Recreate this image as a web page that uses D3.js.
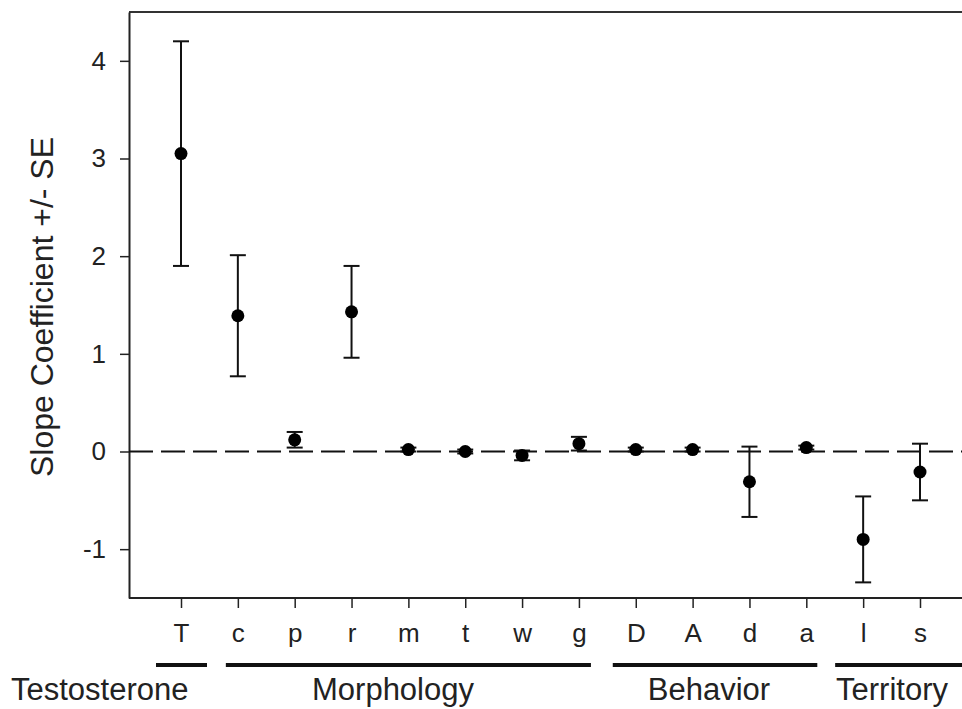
<!DOCTYPE html>
<html>
<head>
<meta charset="utf-8">
<script src="https://cdn.jsdelivr.net/npm/d3@7"></script>
<style>
  body { margin: 0; background: #fff; }
  svg { display: block; font-family: Arial, "Liberation Sans", sans-serif; }
</style>
</head>
<body>
<div id="chart"></div>
<script>
// categories and slope coefficients (+/- SE)
const categories = ["T", "c", "p", "r", "m", "t", "w", "g", "D", "A", "d", "a", "l", "s"];
const slope = [3.05, 1.39, 0.12, 1.43, 0.02, 0.00, -0.04, 0.08, 0.02, 0.02, -0.31, 0.04, -0.90, -0.21];
const se    = [1.15, 0.62, 0.08, 0.47, 0.02, 0.02,  0.05, 0.07, 0.02, 0.02,  0.36, 0.02,  0.44,  0.29];
const yTicks = [-1, 0, 1, 2, 3, 4];

// groups of categories under the x axis
const groupNames = ["Testosterone", "Morphology", "Behavior", "Territory"];
const groupFirst = ["T", "c", "D", "l"];
const groupLast  = ["T", "g", "a", "s"];

const W = 962, H = 709;
const plot = { left: 129, top: 12, bottom: 598, right: 962 };

const svg = d3.select("#chart")
    .append("svg")
    .attr("width", W)
    .attr("height", H);

const x = d3.scaleLinear()
    .domain([0, categories.length - 1])
    .range([181, 920]);

const y = d3.scaleLinear()
    .domain([-1.5, 4.5])
    .range([plot.bottom, plot.top]);

const xi = (c) => x(categories.indexOf(c));

// frame: top border
svg.append("line")
    .attr("x1", plot.left).attr("x2", plot.right)
    .attr("y1", plot.top).attr("y2", plot.top)
    .attr("stroke", "#333").attr("stroke-width", 2);

// y axis
const yAxis = svg.append("g")
    .attr("transform", `translate(${plot.left},0)`)
    .call(d3.axisLeft(y).tickValues(yTicks).tickSize(9).tickSizeOuter(0).tickPadding(14)
        .tickFormat((d) => String(d)));
yAxis.select(".domain").attr("stroke", "#222").attr("stroke-width", 2);
yAxis.selectAll(".tick line").attr("stroke", "#222").attr("stroke-width", 1.5);
yAxis.selectAll(".tick text")
    .attr("font-size", 26)
    .attr("fill", "#222")
    .attr("font-family", "Arial, 'Liberation Sans', sans-serif");

// x axis
const xAxis = svg.append("g")
    .attr("transform", `translate(0,${plot.bottom})`)
    .call(d3.axisBottom(x).tickValues(d3.range(categories.length)).tickSize(10).tickSizeOuter(0).tickPadding(16)
        .tickFormat((i) => categories[i]));
xAxis.select(".domain")
    .attr("d", `M${plot.left},0H${plot.right}`)
    .attr("stroke", "#222").attr("stroke-width", 2);
xAxis.selectAll(".tick line").attr("stroke", "#222").attr("stroke-width", 1.5);
xAxis.selectAll(".tick text")
    .attr("font-size", 26)
    .attr("fill", "#222")
    .attr("font-family", "Arial, 'Liberation Sans', sans-serif");

// y axis title
svg.append("text")
    .attr("transform", `translate(53,${(plot.top + plot.bottom) / 2 + 2}) rotate(-90)`)
    .attr("text-anchor", "middle")
    .attr("font-size", 32)
    .attr("fill", "#222")
    .text("Slope Coefficient +/- SE");

// zero reference line
svg.append("line")
    .attr("x1", plot.left).attr("x2", plot.right)
    .attr("y1", y(0)).attr("y2", y(0))
    .attr("stroke", "#111").attr("stroke-width", 2)
    .attr("stroke-dasharray", "24,8");

// error bars
const bars = svg.append("g")
    .selectAll("g")
    .data(categories.map((c, i) => ({ c, v: slope[i], e: se[i] })))
    .join("g")
    .attr("stroke", "#111")
    .attr("stroke-width", 2);

bars.append("line")
    .attr("x1", (d) => xi(d.c)).attr("x2", (d) => xi(d.c))
    .attr("y1", (d) => y(d.v + d.e)).attr("y2", (d) => y(d.v - d.e));
bars.append("line")
    .attr("x1", (d) => xi(d.c) - 8).attr("x2", (d) => xi(d.c) + 8)
    .attr("y1", (d) => y(d.v + d.e)).attr("y2", (d) => y(d.v + d.e));
bars.append("line")
    .attr("x1", (d) => xi(d.c) - 8).attr("x2", (d) => xi(d.c) + 8)
    .attr("y1", (d) => y(d.v - d.e)).attr("y2", (d) => y(d.v - d.e));

// points
svg.append("g")
    .selectAll("circle")
    .data(categories.map((c, i) => ({ c, v: slope[i] })))
    .join("circle")
    .attr("cx", (d) => xi(d.c))
    .attr("cy", (d) => y(d.v))
    .attr("r", 6.5)
    .attr("fill", "#000");

// group brackets and labels
const groupPad = [[25, 26], [12, 12], [23, 11], [28, 60]];
const groupLabel = [
    { x: 11, anchor: "start" },
    { x: 393, anchor: "middle" },
    { x: 709, anchor: "middle" },
    { x: 836, anchor: "start" }
];

const groups = svg.append("g")
    .selectAll("g")
    .data(groupNames.map((name, i) => ({ name, first: groupFirst[i], last: groupLast[i], i })))
    .join("g");

groups.append("line")
    .attr("x1", (d) => xi(d.first) - groupPad[d.i][0])
    .attr("x2", (d) => Math.min(W, xi(d.last) + groupPad[d.i][1]))
    .attr("y1", 665).attr("y2", 665)
    .attr("stroke", "#111").attr("stroke-width", 4);

groups.append("text")
    .attr("x", (d) => groupLabel[d.i].x)
    .attr("y", 700)
    .attr("text-anchor", (d) => groupLabel[d.i].anchor)
    .attr("font-size", 31)
    .attr("fill", "#222")
    .text((d) => d.name);
</script>
</body>
</html>
